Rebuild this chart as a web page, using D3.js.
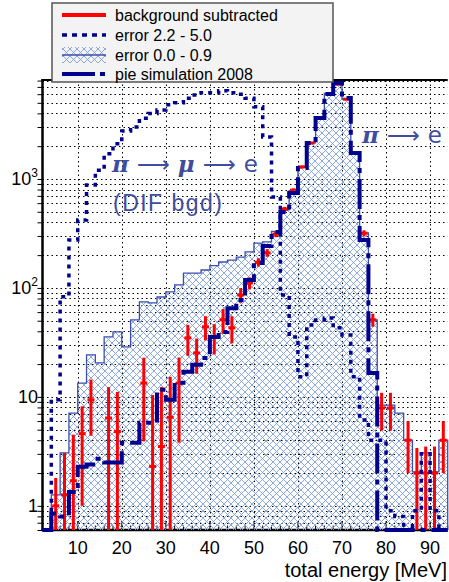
<!DOCTYPE html>
<html>
<head>
<meta charset="utf-8">
<script src="https://cdn.jsdelivr.net/npm/d3@7"></script>
<style>
  body { margin: 0; background: #fff; }
  text { font-family: "Liberation Sans", Arial, Helvetica, sans-serif; }
</style>
</head>
<body>
<svg id="chart" width="449" height="582"></svg>
<script>
// Energy binning: 2 MeV bins from 2 to 94 MeV
const binEdges = d3.range(2, 95, 2);

// "error 0.0 - 0.9" (hatched histogram)
const hatchValues = [0, 1.26, 3.06, 7.1, 13.4, 24.3, 20.5, 35.5, 39.5, 28.8,
  50.9, 74.4, 73, 82.6, 91.9, 106.6, 137, 137, 146, 160,
  173, 180, 192, 214, 258, 265, 330, 520, 780, 1290,
  2150, 3650, 6100, 7500, 5450, 1760, 320, 51, 8.4, 8.4,
  7.1, 4.0, 2.05, 3.06, 2.05, 4.0];

// "error 2.2 - 5.0" (dotted histogram)
const dottedValues = [0, 9.4, 83, 276, 420, 880, 1200, 1700, 2100, 2750,
  3000, 3600, 4000, 4300, 4800, 5000, 5500, 5900, 6200, 6200,
  6450, 6200, 6000, 5500, 4600, 2430, 684, 86, 35.5, 15.3,
  45.8, 50.9, 53, 43, 37, 15.3, 6.15, 4.0, 4.0, 0.9,
  0.8, 0, 0.9, 3.0, 0.9, 0];

// "pie simulation 2008" (dash-dot histogram)
const pieValues = [0, 0.85, 0.8, 1.34, 2.28, 2.4, 2.7, 2.5, 2.5, 3.8,
  3.8, 5.8, 5.8, 11.6, 9.4, 13.5, 17.0, 19.7, 22.8, 35.5,
  39.5, 65, 77.6, 118, 169, 243, 326, 498, 744, 1262,
  2138, 3630, 6025, 7600, 5530, 1733, 276, 16.6, 0, 0,
  0, 0, 0, 0, 0, 0];

// "background subtracted" (points with error bars; null = empty/negative bin)
const redValues = [null, 1.0, 1.26, 1.7, 4.6, 9.4, null, 6.4, 4.8, null,
  null, 13.4, 2.3, 3.5, 6.5, 13.4, 34.8, 25.3, 44, 35.5,
  51, 43, 86, 111, 172, 210, 312, 530, 790, 1290,
  2140, 3630, 6025, 7400, 5400, 1750, 318, 51, 7.9, 7.9,
  null, 4.0, 2.0, 2.0, 2.0, 4.0];
const redErrors = [null, 0.8, 1.8, 2.8, 3.6, 5, null, 5.9, 6.3, null,
  null, 9.5, 8.1, 8.8, 8.8, 9.6, 11, 9, 11, 11,
  13, 12, 13, 14, 15, 17, 20, 25, 30, 38,
  48, 62, 80, 88, 75, 43, 20, 7, 3, 3,
  null, 2, 1.4, 1.5, 1.5, 2];

const xTickValues = [10, 20, 30, 40, 50, 60, 70, 80, 90];
const yTickValues = [1, 10, 100, 1000];
const yTickBase = ["1", "10", "10", "10"];
const yTickExp = ["", "", "2", "3"];

const legendLabels = ["background subtracted", "error 2.2 - 5.0", "error 0.0 - 0.9", "pie simulation 2008"];

const svg = d3.select("#chart");
const frameL = 42.5, frameR = 447.7, frameT = 80, frameB = 530;
const yMin = 0.6, yMax = 8100;

const x = d3.scaleLinear().domain([2, 94]).range([frameL, frameR]);
const y = d3.scaleLog().domain([yMin, yMax]).range([frameB, frameT]);
const yc = v => (v == null || v <= yMin) ? frameB : y(Math.min(v, yMax));

const darkBlue = "#00008f";
const hatchLine = "#3b4fb0";
const textBlue = "#3f4d9f";

// cross-hatch pattern
const defs = svg.append("defs");
const pat = defs.append("pattern").attr("id", "hatch")
  .attr("width", 7).attr("height", 7).attr("patternUnits", "userSpaceOnUse");
pat.append("path").attr("d", "M0,0L7,7M7,0L0,7M-1,6L1,8M6,-1L8,1M-1,1L1,-1M6,8L8,6")
  .attr("stroke", "#809ee4").attr("stroke-width", 0.9).attr("fill", "none");

// grid
const yGridVals = [];
for (let e = -1; e <= 3; e++) for (let m = 1; m <= 9; m++) {
  const v = m * Math.pow(10, e);
  if (v >= yMin && v <= yMax) yGridVals.push(v);
}
const grid = svg.append("g").attr("stroke", "#000").attr("stroke-width", 1)
  .attr("stroke-dasharray", "1.5,3");
grid.selectAll("line.h").data(yGridVals).join("line").attr("class", "h")
  .attr("x1", frameL).attr("x2", frameR)
  .attr("y1", d => Math.round(y(d)) + 0.5).attr("y2", d => Math.round(y(d)) + 0.5);
grid.selectAll("line.v").data(xTickValues).join("line").attr("class", "v")
  .attr("y1", frameT).attr("y2", frameB)
  .attr("x1", d => Math.round(x(d)) + 0.5).attr("x2", d => Math.round(x(d)) + 0.5);

// axes
const yAxis = d3.axisLeft(y).tickValues(yGridVals).tickFormat("").tickSize(5).tickSizeOuter(0);
const yg = svg.append("g").attr("transform", `translate(${frameL},0)`).call(yAxis);
yg.select(".domain").remove();
yg.selectAll(".tick line").attr("stroke", "#000").attr("stroke-width", 1);

const xMinor = d3.range(2, 95, 2);
svg.append("g").selectAll("line").data(xMinor).join("line")
  .attr("x1", d => x(d)).attr("x2", d => x(d))
  .attr("y1", frameB).attr("y2", d => frameB - (d % 10 === 0 ? 9 : 4.5))
  .attr("stroke", "#000").attr("stroke-width", 1);

svg.append("line").attr("x1", frameL).attr("x2", frameL).attr("y1", frameT - 1).attr("y2", frameB + 1)
  .attr("stroke", "#000").attr("stroke-width", 2.5);
svg.append("line").attr("x1", frameL - 1).attr("x2", frameR).attr("y1", frameB).attr("y2", frameB)
  .attr("stroke", "#000").attr("stroke-width", 2.5);
svg.append("line").attr("x1", frameL - 1).attr("x2", frameR).attr("y1", frameT).attr("y2", frameT)
  .attr("stroke", "#000").attr("stroke-width", 2);

// y tick labels
const yl = svg.append("g").attr("font-size", 18).attr("text-anchor", "end").attr("fill", "#000");
yTickValues.forEach((v, i) => {
  const t = yl.append("text").attr("x", 38).attr("y", y(v) + 6.5);
  t.append("tspan").text(yTickBase[i]);
  if (yTickExp[i]) t.append("tspan").attr("font-size", 12).attr("dy", -8).text(yTickExp[i]);
});

// x tick labels
svg.append("g").attr("font-size", 18).attr("text-anchor", "middle")
  .selectAll("text").data(xTickValues).join("text")
  .attr("x", d => x(d)).attr("y", 554).text(d => d);

svg.append("text").attr("x", 447).attr("y", 577).attr("text-anchor", "end")
  .attr("font-size", 20).text("total energy [MeV]");

// step path builder
function stepPoints(vals) {
  const pts = [[x(binEdges[0]), frameB]];
  vals.forEach((v, i) => {
    const yy = yc(v);
    pts.push([x(binEdges[i]), yy], [x(binEdges[i + 1]), yy]);
  });
  pts.push([x(binEdges[binEdges.length - 1]), frameB]);
  return pts;
}
const line = d3.line();

// hatched histogram
svg.append("path").attr("d", line(stepPoints(hatchValues)) + "Z")
  .attr("fill", "url(#hatch)").attr("stroke", "none");
svg.append("path").attr("d", line(stepPoints(hatchValues)))
  .attr("fill", "none").attr("stroke", hatchLine).attr("stroke-width", 1.3);

// background subtracted: error bars and bin markers
const red = svg.append("g").attr("stroke", "#ff0000").attr("stroke-width", 3);
redValues.forEach((v, i) => {
  if (v == null) return;
  const e = redErrors[i];
  const cx = x((binEdges[i] + binEdges[i + 1]) / 2);
  red.append("line").attr("x1", cx).attr("x2", cx).attr("y1", yc(v - e)).attr("y2", yc(v + e));
  red.append("line").attr("x1", cx - 3.5).attr("x2", cx + 3.5).attr("y1", yc(v)).attr("y2", yc(v));
});

// error 2.2 - 5.0
svg.append("path").attr("d", line(stepPoints(dottedValues)))
  .attr("fill", "none").attr("stroke", darkBlue).attr("stroke-width", 3.5)
  .attr("stroke-dasharray", "4,5");

// pie simulation 2008
svg.append("path").attr("d", line(stepPoints(pieValues)))
  .attr("fill", "none").attr("stroke", darkBlue).attr("stroke-width", 4)
  .attr("stroke-dasharray", "30,6,5,6");

// annotations
const ann1 = svg.append("text").attr("x", 112).attr("y", 172).attr("fill", textBlue).attr("font-size", 23);
ann1.append("tspan").attr("font-family", "DejaVu Serif").attr("font-style", "italic").attr("font-weight", "bold").text("π");
ann1.append("tspan").attr("font-family", "DejaVu Sans").attr("dx", 8).text("⟶");
ann1.append("tspan").attr("font-family", "DejaVu Serif").attr("font-style", "italic").attr("font-weight", "bold").attr("dx", 8).text("μ");
ann1.append("tspan").attr("font-family", "DejaVu Sans").attr("dx", 8).text("⟶");
ann1.append("tspan").attr("font-family", "DejaVu Sans").attr("dx", 8).text("e");

svg.append("text").attr("x", 113).attr("y", 211).attr("fill", textBlue)
  .attr("font-size", 23).attr("font-family", "DejaVu Sans")
  .attr("textLength", 109).attr("lengthAdjust", "spacing").text("(DIF bgd)");

const ann2 = svg.append("text").attr("x", 362).attr("y", 143).attr("fill", textBlue).attr("font-size", 23);
ann2.append("tspan").attr("font-family", "DejaVu Serif").attr("font-style", "italic").attr("font-weight", "bold").text("π");
ann2.append("tspan").attr("font-family", "DejaVu Sans").attr("dx", 8).text("⟶");
ann2.append("tspan").attr("font-family", "DejaVu Sans").attr("dx", 8).text("e");

// legend
const lg = svg.append("g");
lg.append("rect").attr("x", 52).attr("y", 3).attr("width", 281).attr("height", 79)
  .attr("fill", "#f3f3f3").attr("stroke", "#555").attr("stroke-width", 1.5);
const rows = [15, 35, 55, 74];
lg.append("line").attr("x1", 62).attr("x2", 106).attr("y1", rows[0]).attr("y2", rows[0])
  .attr("stroke", "#ff0000").attr("stroke-width", 4);
lg.append("line").attr("x1", 62).attr("x2", 106).attr("y1", rows[1]).attr("y2", rows[1])
  .attr("stroke", darkBlue).attr("stroke-width", 3.5).attr("stroke-dasharray", "5,5");
lg.append("rect").attr("x", 62).attr("y", rows[2] - 8).attr("width", 44).attr("height", 16)
  .attr("fill", "url(#hatch)");
lg.append("line").attr("x1", 62).attr("x2", 106).attr("y1", rows[2]).attr("y2", rows[2])
  .attr("stroke", hatchLine).attr("stroke-width", 1.3);
lg.append("line").attr("x1", 62).attr("x2", 106).attr("y1", rows[3]).attr("y2", rows[3])
  .attr("stroke", darkBlue).attr("stroke-width", 4).attr("stroke-dasharray", "33,5,5,5");
lg.selectAll("text").data(legendLabels).join("text")
  .attr("x", 115).attr("y", (d, i) => rows[i] + 5.5).attr("font-size", 16).text(d => d);
</script>
</body>
</html>
